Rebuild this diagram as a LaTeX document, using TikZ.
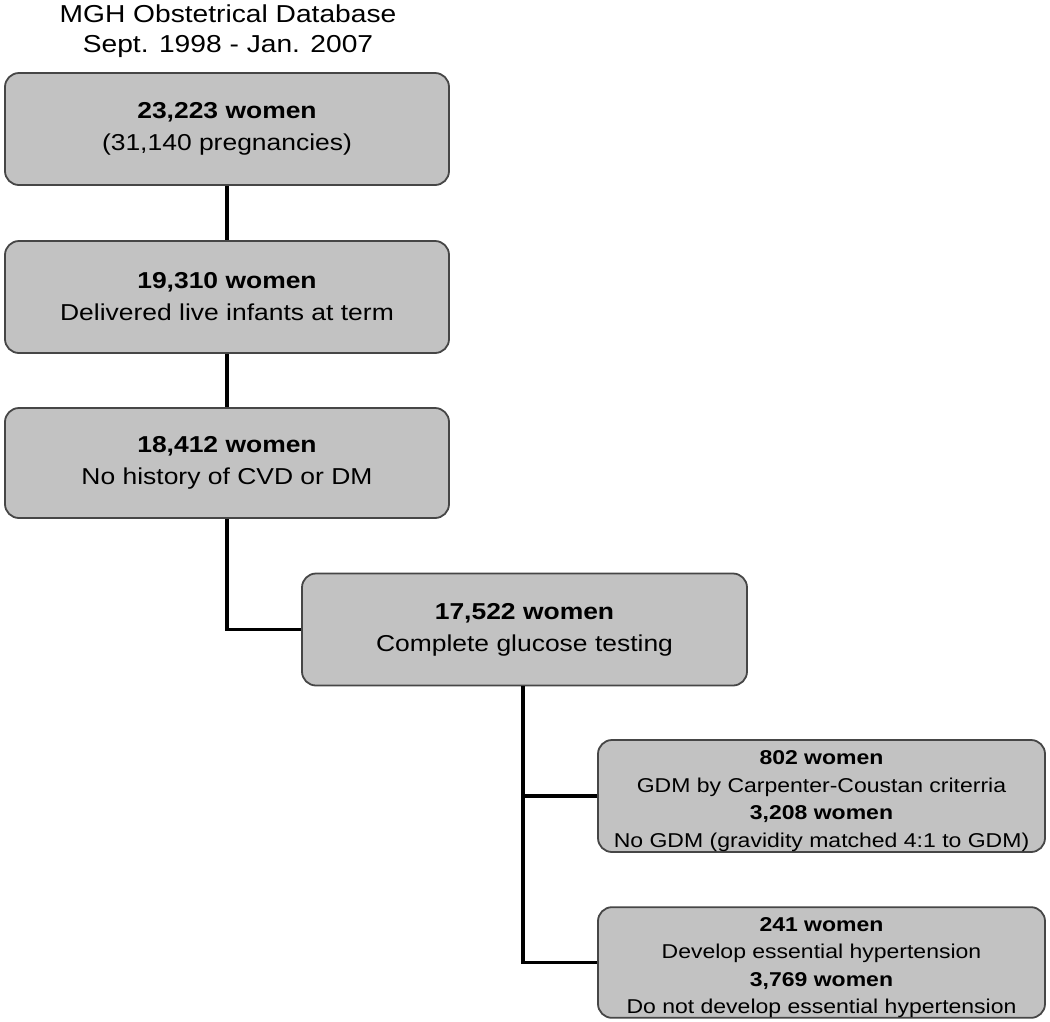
\documentclass[tikz,border=0pt]{standalone}
\usepackage{fontspec}
\setmainfont{Liberation Sans}[FakeStretch=1.15]
\definecolor{boxfill}{RGB}{194,194,194}
\definecolor{boxdraw}{RGB}{70,70,70}
\newcommand{\dropstrut}{\rule{0pt}{24pt}}
\begin{document}
\begin{tikzpicture}[x=1pt,y=-1pt,
  flowbox/.style={draw=boxdraw, line width=1.8pt, fill=boxfill, rounded corners=14pt,
    align=center, inner sep=0pt, text=black},
  bigbox/.style={flowbox, minimum width=444pt, minimum height=112pt,
    font=\fontsize{23}{32}\selectfont},
  smallbox/.style={flowbox, minimum width=447pt, minimum height=111pt,
    font=\fontsize{20}{27.5}\selectfont},
  link/.style={draw=black, line width=3.5pt}]
\useasboundingbox[fill=white] (0,0) rectangle (1050,1021);
\node[align=center, font=\fontsize{24.5}{30}\selectfont] (title) at (228,31)
  {MGH Obstetrical Database\\Sept. 1998 - Jan. 2007};
\node[bigbox] (b1) at (227,129) {\textbf{23,223 women}\\(31,140 pregnancies)};
\node[bigbox] (b2) at (227,297) {\textbf{19,310 women}\\Delivered live infants at term};
\node[bigbox, minimum height=110pt] (b3) at (227,463) {\textbf{18,412 women}\\No history of CVD or DM};
\node[bigbox, minimum width=445pt] (b4) at (524.5,629.5) {\textbf{17,522 women}\\Complete glucose testing};
\node[smallbox, minimum height=112pt] (b5) at (821.5,796) {\dropstrut\textbf{802 women}\\GDM by Carpenter-Coustan criterria\\\textbf{3,208 women}\\No GDM (gravidity matched 4:1 to GDM)};
\node[smallbox, minimum height=109pt] (b6) at (821.5,962.5) {\dropstrut\textbf{241 women}\\Develop essential hypertension\\\textbf{3,769 women}\\Do not develop essential hypertension};
\draw[link] (b1.south) -- (b2.north);
\draw[link] (b2.south) -- (b3.north);
\draw[link] (b3.south) |- (b4.west);
\draw[link] ([xshift=-1.5pt]b4.south) |- (b5.west);
\draw[link] ([xshift=-1.5pt]b4.south) |- (b6.west);
\end{tikzpicture}
\end{document}
